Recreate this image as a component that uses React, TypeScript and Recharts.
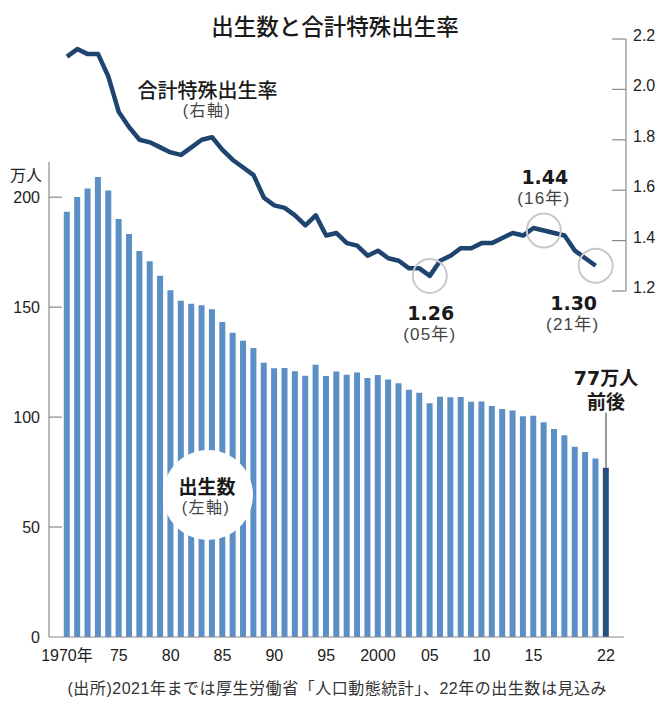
import React from 'react';
import { ComposedChart, Bar, Line, XAxis, YAxis, Cell, ReferenceDot } from 'recharts';

const years = [
  1970, 1971, 1972, 1973, 1974, 1975, 1976, 1977, 1978, 1979,
  1980, 1981, 1982, 1983, 1984, 1985, 1986, 1987, 1988, 1989,
  1990, 1991, 1992, 1993, 1994, 1995, 1996, 1997, 1998, 1999,
  2000, 2001, 2002, 2003, 2004, 2005, 2006, 2007, 2008, 2009,
  2010, 2011, 2012, 2013, 2014, 2015, 2016, 2017, 2018, 2019,
  2020, 2021, 2022,
];

// 出生数（万人）
const births = [
  193.4, 200.1, 203.9, 209.2, 203.0, 190.1, 183.3, 175.5, 170.9, 164.3,
  157.7, 152.9, 151.5, 150.9, 149.0, 143.2, 138.3, 134.7, 131.4, 124.7,
  122.2, 122.3, 120.9, 118.8, 123.8, 118.7, 120.7, 119.2, 120.3, 117.8,
  119.1, 117.1, 115.4, 112.4, 111.1, 106.3, 109.3, 109.0, 109.1, 107.0,
  107.1, 105.1, 103.7, 103.0, 100.4, 100.6, 97.7, 94.6, 91.8, 86.5,
  84.1, 81.2, 77,
];

// 合計特殊出生率
const tfr: (number | null)[] = [
  2.13, 2.16, 2.14, 2.14, 2.05, 1.91, 1.85, 1.80, 1.79, 1.77,
  1.75, 1.74, 1.77, 1.80, 1.81, 1.76, 1.72, 1.69, 1.66, 1.57,
  1.54, 1.53, 1.50, 1.46, 1.50, 1.42, 1.43, 1.39, 1.38, 1.34,
  1.36, 1.33, 1.32, 1.29, 1.29, 1.26, 1.32, 1.34, 1.37, 1.37,
  1.39, 1.39, 1.41, 1.43, 1.42, 1.45, 1.44, 1.43, 1.42, 1.36,
  1.33, 1.30, null,
];

const xTickYears = [1970, 1975, 1980, 1985, 1990, 1995, 2000, 2005, 2010, 2015, 2022];
const xTickLabels = ['1970年', '75', '80', '85', '90', '95', '2000', '05', '10', '15', '22'];
const leftTicks = [0, 50, 100, 150, 200];
const rightTicks = [1.2, 1.4, 1.6, 1.8, 2.0, 2.2];

const highlightYears = [2005, 2016, 2021];
const highlightValues = [1.26, 1.44, 1.30];
const highlightLabels = ['1.26', '1.44', '1.30'];
const highlightSubs = ['(05年)', '(16年)', '(21年)'];

const lastYear = 2022;
const lastBirths = 77;

const data = years.map((y, i) => ({ year: y, births: births[i], tfr: tfr[i] }));

const BAR_COLOR = '#5b8fc6';
const BAR_DARK = '#26507f';
const LINE_COLOR = '#1e4470';
const AXIS_COLOR = '#8a8a8a';
const TEXT = '#222';
const NUM_FONT = 'Liberation Sans, Arial, "Noto Sans CJK JP", sans-serif';
const CJK_FONT = '"Noto Sans CJK JP", sans-serif';
const BOLD_NUM = '"DejaVu Sans", "Noto Sans CJK JP", sans-serif';

const LeftTick = (props: any) => {
  const { x, y, payload } = props;
  return (
    <g>
      {payload.value !== 0 && <line x1={x} x2={x + 13} y1={y} y2={y} stroke={AXIS_COLOR} strokeWidth={1.2} />}
      <text x={x - 9} y={y + 6} textAnchor="end" fontSize={16} fontFamily={NUM_FONT} fill={TEXT}>
        {payload.value}
      </text>
    </g>
  );
};

const RightTick = (props: any) => {
  const { x, y, payload } = props;
  return (
    <g>
      <line x1={x - 14} x2={x} y1={y} y2={y} stroke={AXIS_COLOR} strokeWidth={1.2} />
      <text x={x + 7} y={y + 2} textAnchor="start" fontSize={16} fontFamily={NUM_FONT} fill={TEXT}>
        {Number(payload.value).toFixed(1)}
      </text>
    </g>
  );
};

const BottomTick = (props: any) => {
  const { x, y, payload } = props;
  const idx = xTickYears.indexOf(payload.value);
  if (idx < 0) return <g />;
  return (
    <text x={x} y={y + 24} textAnchor="middle" fontSize={16} fontFamily={NUM_FONT} fill={TEXT}>
      {xTickLabels[idx]}
    </text>
  );
};

const HighlightShape = (idx: number) => (props: any) => {
  const { cx, cy } = props;
  const above = idx === 1;
  const dx = idx === 2 ? -23 : 0;
  const mainY = above ? cy - 47 : cy + 44;
  const subY = above ? cy - 27 : cy + 64;
  return (
    <g>
      <circle cx={cx} cy={cy} r={17} fill="none" stroke="#c9c9c9" strokeWidth={2} />
      <text x={cx + dx + 1} y={mainY} textAnchor="middle" fontSize={19} fontWeight="bold" fontFamily={BOLD_NUM} fill="#1a1a1a">
        {highlightLabels[idx]}
      </text>
      <text x={cx + dx} y={subY} textAnchor="middle" fontSize={17} letterSpacing={1.2} fontFamily={NUM_FONT} fill="#444">
        {highlightSubs[idx]}
      </text>
    </g>
  );
};

const LastShape = (props: any) => {
  const { cx, cy } = props;
  return (
    <g>
      <line x1={cx} x2={cx} y1={cy} y2={cy - 55} stroke="#333" strokeWidth={1} />
      <text x={cx} y={cy - 83} textAnchor="middle" fontSize={19} fontWeight="bold" fontFamily={BOLD_NUM} fill="#1a1a1a">
        77万人
      </text>
      <text x={cx} y={cy - 59} textAnchor="middle" fontSize={19} fontWeight="bold" fontFamily={CJK_FONT} fill="#1a1a1a">
        前後
      </text>
    </g>
  );
};

export default function App() {
  return (
    <div style={{ position: 'absolute', left: 0, top: 0, width: 667, height: 708, background: '#fff' }}>
      {/* Bars: births */}
      <div style={{ position: 'absolute', left: 0, top: 0 }}>
        <ComposedChart width={667} height={708} data={data} margin={{ top: 162, right: 43, bottom: 41, left: 0 }}>
          <XAxis
            dataKey="year"
            scale="band"
            interval={0}
            height={30}
            padding={{ left: 12.8, right: 12.8 }}
            tickLine={false}
            tickSize={0}
            tickMargin={0}
            axisLine={{ stroke: AXIS_COLOR, strokeWidth: 1.2 }}
            tick={BottomTick}
          />
          <YAxis
            yAxisId="l"
            width={49}
            domain={[0, 216]}
            ticks={leftTicks}
            tickLine={false}
            tickSize={0}
            tickMargin={0}
            axisLine={{ stroke: AXIS_COLOR, strokeWidth: 1.2 }}
            tick={LeftTick}
          />
          <Bar yAxisId="l" dataKey="births" barSize={6} isAnimationActive={false}>
            {data.map((d) => (
              <Cell key={d.year} fill={d.year === lastYear ? BAR_DARK : BAR_COLOR} />
            ))}
          </Bar>
          <ReferenceDot yAxisId="l" x={lastYear} y={lastBirths} r={0} shape={LastShape} />
        </ComposedChart>
      </div>

      {/* Static annotations */}
      <svg width={667} height={708} style={{ position: 'absolute', left: 0, top: 0 }}>
        <text x={335} y={35} textAnchor="middle" fontSize={22.5} fontWeight={500} fontFamily={CJK_FONT} fill="#1a1a1a">
          出生数と合計特殊出生率
        </text>
        <text x={207.5} y={97.5} textAnchor="middle" fontSize={20} fontWeight={500} fontFamily={CJK_FONT} fill="#1a1a1a">
          合計特殊出生率
        </text>
        <text x={207} y={116} textAnchor="middle" fontSize={16} letterSpacing={1.5} fontFamily={NUM_FONT} fill="#444">
          (右軸)
        </text>
        <text x={26} y={181} textAnchor="middle" fontSize={16} fontFamily={CJK_FONT} fill={TEXT}>
          万人
        </text>
        <circle cx={208} cy={495} r={45} fill="#fff" />
        <text x={207} y={494} textAnchor="middle" fontSize={19} fontWeight="bold" fontFamily={CJK_FONT} fill="#1a1a1a">
          出生数
        </text>
        <text x={206} y={513} textAnchor="middle" fontSize={16} letterSpacing={1.5} fontFamily={NUM_FONT} fill="#444">
          (左軸)
        </text>
        <text x={337} y={694} textAnchor="middle" fontSize={16} textLength={539} lengthAdjust="spacing" fontFamily={NUM_FONT} fill="#333">
          (出所)2021年までは厚生労働省「人口動態統計」、22年の出生数は見込み
        </text>
      </svg>

      {/* Line: total fertility rate */}
      <div style={{ position: 'absolute', left: 0, top: 0 }}>
        <ComposedChart width={667} height={708} data={data} margin={{ top: 39, right: 0, bottom: 417, left: 49 }}>
          <XAxis dataKey="year" hide scale="band" padding={{ left: 12.8, right: 14.8 }} />
          <YAxis
            yAxisId="r"
            orientation="right"
            width={41}
            domain={[1.2, 2.2]}
            ticks={rightTicks}
            tickLine={false}
            tickSize={0}
            tickMargin={0}
            axisLine={{ stroke: AXIS_COLOR, strokeWidth: 1.2 }}
            tick={RightTick}
          />
          {highlightYears.map((y, i) => (
            <ReferenceDot key={y} yAxisId="r" x={y} y={highlightValues[i]} r={17} shape={HighlightShape(i)} />
          ))}
          <Line
            yAxisId="r"
            dataKey="tfr"
            stroke={LINE_COLOR}
            strokeWidth={4.5}
            dot={false}
            strokeLinejoin="round"
            isAnimationActive={false}
          />
        </ComposedChart>
      </div>
    </div>
  );
}
